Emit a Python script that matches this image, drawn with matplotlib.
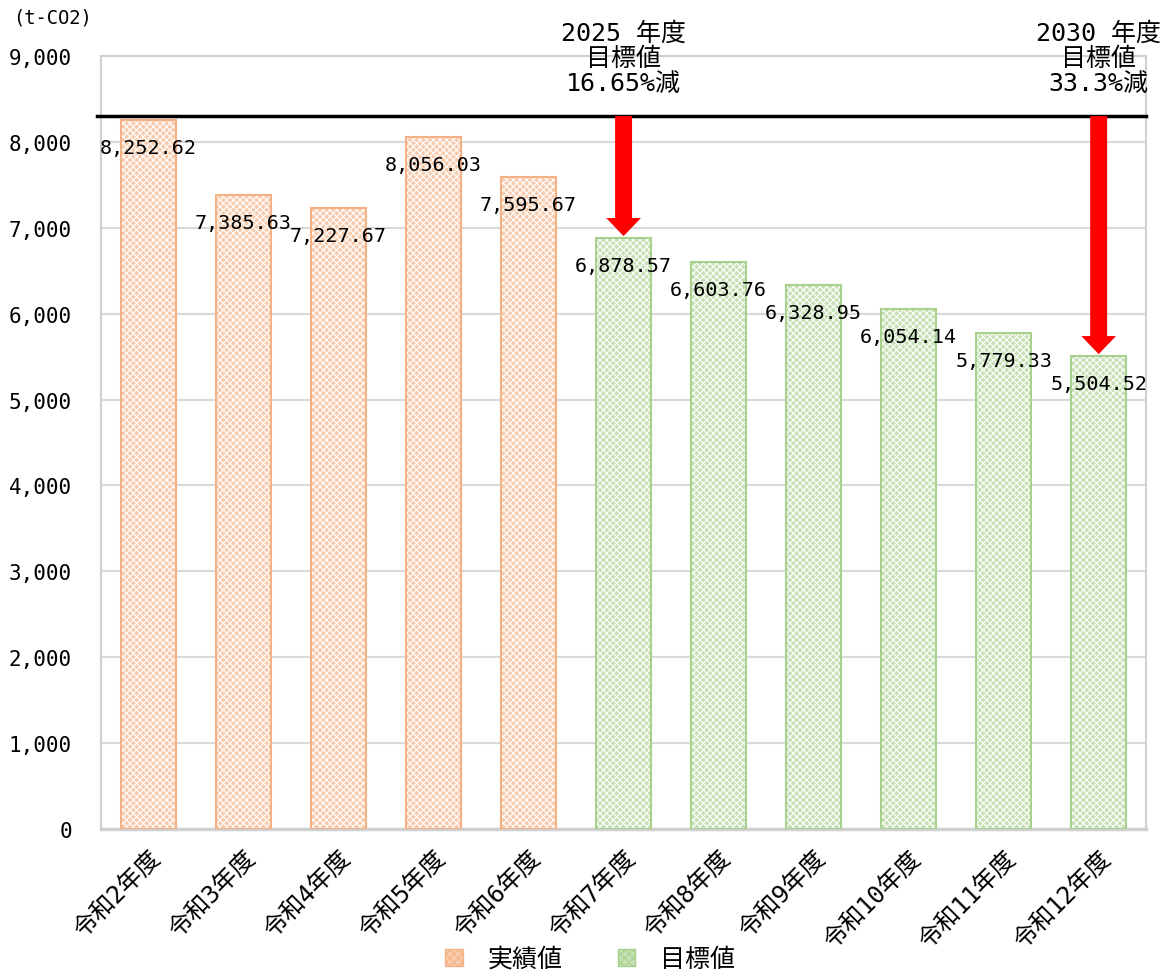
import matplotlib
matplotlib.use("Agg")
import matplotlib.pyplot as plt
from matplotlib.patches import Patch
import numpy as np

FAM = ['DejaVu Sans Mono', 'Noto Sans CJK JP']
plt.rcParams['font.family'] = FAM
plt.rcParams['hatch.linewidth'] = 0.8

categories = ['令和2年度', '令和3年度', '令和4年度', '令和5年度', '令和6年度', '令和7年度',
              '令和8年度', '令和9年度', '令和10年度', '令和11年度', '令和12年度']
values = [8252.62, 7385.63, 7227.67, 8056.03, 7595.67, 6878.57,
          6603.76, 6328.95, 6054.14, 5779.33, 5504.52]
kinds = ['実績値'] * 5 + ['目標値'] * 6
baseline = 8300
arrow_targets = [(5, '2025 年度\n目標値\n16.65%減'), (10, '2030 年度\n目標値\n33.3%減')]

face = {'実績値': '#F8CBAD', '目標値': '#C5E0B4'}
edge = {'実績値': '#F4B183', '目標値': '#A9D18E'}

fig = plt.figure(figsize=(11.66, 9.78), dpi=100)
ax = fig.add_axes([0.0866, 0.1513, 0.8964, 0.7904])

x = np.arange(len(categories))
fc = [face[k] for k in kinds]
ec = [edge[k] for k in kinds]
ax.bar(x, values, width=0.58, color=fc, edgecolor='white', hatch='xxxxx', linewidth=0, zorder=2)
ax.bar(x, values, width=0.58, fill=False, edgecolor=ec, linewidth=1.5, zorder=3)

ax.set_xlim(-0.5, len(categories) - 0.5)
ax.set_ylim(0, 9000)
ax.set_yticks(np.arange(0, 9001, 1000))
ax.set_yticklabels([f'{v:,}' for v in range(0, 9001, 1000)], fontsize=15)
ax.set_xticks(x)
ax.set_xticklabels(categories, rotation=45, ha='right', rotation_mode='anchor', fontsize=17.5)
ax.tick_params(axis='x', length=0, pad=12)
ax.tick_params(axis='y', length=0, pad=21)
ax.yaxis.grid(True, color='#d9d9d9', linewidth=1.5, zorder=0)
ax.set_axisbelow(True)
for s in ax.spines.values():
    s.set_color('#d0d0d0')
    s.set_linewidth(1.5)
ax.spines['bottom'].set_linewidth(2.5)

for xi, v in zip(x, values):
    ax.text(xi, v - 320, f'{v:,.2f}', ha='center', va='center', fontsize=14.5, zorder=5)

ax.plot([-0.54, len(categories) - 0.5], [baseline, baseline], color='black', lw=2.5,
        zorder=6, clip_on=False)

for idx, txt in arrow_targets:
    ax.annotate('', xy=(idx, values[idx] + 25), xytext=(idx, baseline),
                arrowprops=dict(arrowstyle='simple,head_width=2.5,head_length=1.3,tail_width=1.22',
                                color='#ff0000', lw=0, shrinkA=0, shrinkB=0), zorder=7)
    ax.text(idx, baseline + 250, txt, ha='center', va='bottom', fontsize=18,
            linespacing=1.05, zorder=7)

fig.text(13 / 1166, 1 - 18 / 978, '(t-CO2)', fontsize=13.5, ha='left', va='center')

handles = [Patch(facecolor=face[k], edgecolor=edge[k], hatch='xxxx', label=k) for k in ['実績値', '目標値']]
fig.legend(handles=handles, loc='center', bbox_to_anchor=(590 / 1166, 1 - 960 / 978), ncol=2,
           frameon=False, fontsize=18, handlelength=0.7, handleheight=0.7, columnspacing=2.2,
           handletextpad=1.0)

fig.savefig('out.png', dpi=100)
